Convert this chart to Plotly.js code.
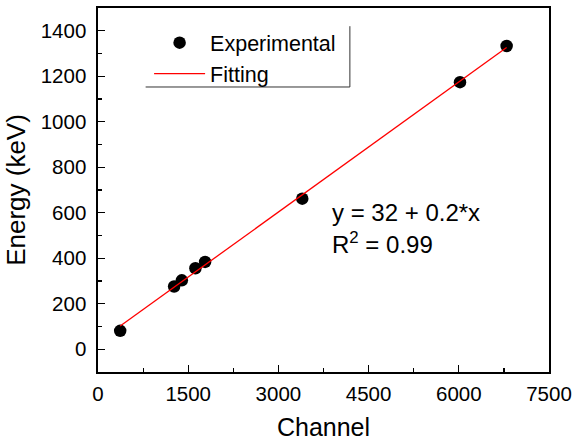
<!DOCTYPE html>
<html>
<head>
<meta charset="utf-8">
<script src="https://cdn.plot.ly/plotly-3.0.1.min.js"></script>
<style>html,body{margin:0;padding:0;background:#fff;}#chart{width:573px;height:441px;}</style>
</head>
<body>
<div id="chart"></div>
<script>
// Data
const channel = [369, 1266, 1394, 1620, 1781, 3397, 6020, 6795];
const energy  = [81, 276, 303, 356, 384, 662, 1174, 1333];
const fitChannel = [369, 6795];
const fitEnergy  = [102, 1326];
const xTicks = [0, 1500, 3000, 4500, 6000, 7500];
const yTicks = [0, 200, 400, 600, 800, 1000, 1200, 1400];
const seriesNames = ['Experimental', 'Fitting'];
const eqText = 'y = 32 + 0.2*x';
const r2Text = 'R<sup>2</sup> = 0.99';

const FONT = 'Arial, "Liberation Sans", sans-serif';

const traces = [
  {
    x: channel, y: energy, mode: 'markers', type: 'scatter', name: seriesNames[0],
    marker: {color: '#000000', size: 12.5}
  },
  {
    x: fitChannel, y: fitEnergy, mode: 'lines', type: 'scatter', name: seriesNames[1],
    line: {color: '#ff0000', width: 1.3}
  }
];

const axisCommon = {
  showline: true, mirror: true, linecolor: '#000', linewidth: 1.6,
  showgrid: false, zeroline: false,
  ticks: 'inside', ticklen: 7, tickwidth: 1.2, tickcolor: '#000',
  tickfont: {family: FONT, size: 20.5, color: '#000'},
  automargin: false
};

const layout = {
  width: 573, height: 441,
  margin: {l: 98, r: 24, t: 8, b: 69},
  paper_bgcolor: '#fff', plot_bgcolor: '#fff',
  showlegend: true,
  font: {family: FONT, color: '#000'},
  xaxis: Object.assign({}, axisCommon, {
    range: [0, 7500], tickmode: 'array', tickvals: xTicks,
    ticklabelstandoff: 3,
    minor: {dtick: 750, ticks: 'inside', ticklen: 4, tickcolor: '#000', tickwidth: 1.2},
    title: {text: 'Channel', font: {family: FONT, size: 25, color: '#000'}, standoff: 16}
  }),
  yaxis: Object.assign({}, axisCommon, {
    range: [-100, 1500], tickmode: 'array', tickvals: yTicks,
    ticklabelstandoff: 6,
    minor: {dtick: 100, ticks: 'inside', ticklen: 4, tickcolor: '#000', tickwidth: 1.2},
    title: {text: 'Energy (keV)', font: {family: FONT, size: 26, color: '#000'}, standoff: 7}
  }),
  legend: {
    x: 0.1133, y: 0.961, xanchor: 'left', yanchor: 'top',
    bgcolor: 'rgba(0,0,0,0)', borderwidth: 0,
    font: {family: FONT, size: 21.5, color: '#000'},
    itemwidth: 51, tracegroupgap: 0
  },
  shapes: [
    {type: 'line', xref: 'paper', yref: 'paper', x0: 0.1056, x1: 0.5585, y0: 0.783, y1: 0.783, line: {color: '#333', width: 1}},
    {type: 'line', xref: 'paper', yref: 'paper', x0: 0.5585, x1: 0.5585, y0: 0.783, y1: 0.95, line: {color: '#333', width: 1}}
  ],
  annotations: [
    {xref: 'paper', yref: 'paper', x: 0.514, y: 0.437, xanchor: 'left', yanchor: 'middle', showarrow: false,
     text: eqText, font: {family: FONT, size: 24, color: '#000'}},
    {xref: 'paper', yref: 'paper', x: 0.514, y: 0.355, xanchor: 'left', yanchor: 'middle', showarrow: false,
     text: r2Text, font: {family: FONT, size: 24, color: '#000'}}
  ]
};

Plotly.newPlot('chart', traces, layout, {displayModeBar: false, staticPlot: true});
</script>
</body>
</html>
